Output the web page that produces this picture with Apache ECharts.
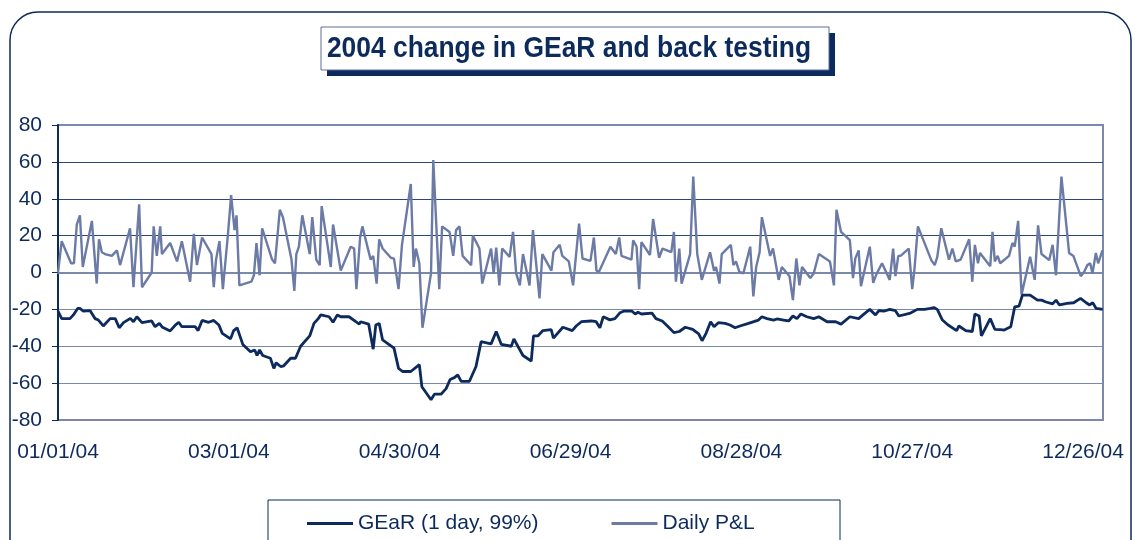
<!DOCTYPE html>
<html>
<head>
<meta charset="utf-8">
<script src="https://cdn.jsdelivr.net/npm/echarts@6/dist/echarts.min.js"></script>
<style>
  html, body { margin: 0; padding: 0; background: #fff; }
  #chart_box { width: 1137px; height: 540px; }
</style>
</head>
<body>
<div id="chart_box"></div>
<script>
// x values are days counted from 01/01/04
var pnlDays = [0,1.3,4.6,5.6,6.6,7.7,8.7,11.9,13.6,14.4,
  15.4,16.5,18.9,20.7,21.8,25.3,26.5,27.1,28.5,29.5,
  32.9,33.6,34.7,35.9,36.5,39.4,41.8,43.5,46.4,47.7,
  48.8,50.6,53.9,54.7,55.5,56.7,57.9,59.7,60.8,62.0,
  62.7,63.7,67.9,68.8,69.7,70.8,71.7,75.2,76.2,77.9,
  79.0,82.0,83.0,83.7,84.6,85.8,88.4,89.3,90.0,90.7,
  91.9,92.6,95.8,96.6,99.3,102.8,104.0,104.8,106.1,106.9,
  109.8,110.7,111.9,112.8,114.0,116.9,118.0,119.6,120.8,123.9,
  124.9,125.7,126.9,128.0,131.0,131.8,133.9,134.9,137.5,138.8,
  139.8,141.0,142.1,145.1,145.7,148.0,149.0,152.1,153.0,153.9,
  155.0,156.0,158.6,159.8,160.9,162.2,163.3,165.6,166.8,169.1,
  170.1,173.3,174.0,176.2,177.1,179.4,180.9,183.0,184.2,187.0,
  188.2,189.1,190.0,194.0,195.9,197.1,197.9,201.4,202.0,203.2,
  204.1,204.9,207.9,209.0,211.1,212.3,215.4,216.3,217.0,218.2,
  219.0,222.0,223.1,224.5,226.1,229.0,230.4,231.1,232.3,233.1,
  236.3,237.2,238.1,239.3,240.7,243.1,244.2,245.2,246.4,247.2,
  250.1,251.1,253.1,254.2,256.9,258.1,259.3,260.4,261.3,264.2,
  265.4,267.2,271.1,272.5,273.4,275.0,278.1,279.2,280.0,281.2,
  282.0,285.1,286.3,287.4,289.4,292.1,293.3,294.1,295.1,295.9,
  298.8,300.0,300.8,302.0,306.7,307.9,308.8,310.2,312.9,314.1,
  315.3,317.0,320.0,321.1,322.0,323.1,323.8,327.4,328.2,329.0,
  330.0,330.9,334.0,335.2,336.0,337.2,338.4,341.4,343.0,344.2,
  345.4,348.1,349.3,350.5,352.4,355.1,356.6,359.2,360.4,361.5,
  362.5,363.3,364.5,365.3,366.8];
var pnlVals = [0,17,5,5,26,31,3,28,-6,18,
  11,10,9,12,4,24,-8,-8,37,-8,
  0,25,9,25,10,16,6,17,-5,21,
  4,19,10,-8,7,17,-9,21,42,23,
  31,-7,-5,-1.5,16,-1.5,24,7,5,34,
  30,7,-10,10,14,31,10,30,30,7,
  4,36,3,26,1,14,13,-9,19,25,
  7,9,-6,18,13,8,7.5,-9,15,48,
  3,13,5,-30,-0.5,61,-9,25,22,9,
  23,25,9,4,20,13,-6,13,-0.5,13.5,
  -7,13,8.5,22,-0.5,-7,10,-7,23,-14,
  10,1,11,15,9,6,-7,26.5,7.6,6.3,
  19,1,0.4,14,10,19,9,7,17.5,14,
  -9,16.5,9.5,29,8,13,11,22,-5,13,
  -6,10,52,10,-4,11,1,3,-6,10,
  15,4,6,0.4,-0.5,14,-13,3,11,30,
  9,13,-4,3,-2,-15,7.6,-7,3,-3,
  -0.5,10,6,-7,34,22,17.5,-3,7.6,12,
  -7.4,14,-5.6,-1,5,-4,13,-2,9,9,
  13,-9,2,25,6.7,4,8.5,24,7,13,
  6,7,18,-5,15,5,10.6,3.4,22,6,
  9,5,9,16,14,28,-12,8.5,-4,25.6,
  10,6.7,15,-1.5,52,10.6,9,-2,0.4,4,
  5,-0.5,10.6,5,12];

var gearDays = [0,1.3,4.2,5.4,6.9,7.7,8.9,11.3,13.0,14.2,
  15.9,18.3,20.1,21.5,23.0,25.4,26.5,27.7,29.5,32.9,
  34.1,35.6,36.7,39.4,41.2,42.4,43.5,48.2,49.2,50.6,
  52.9,54.7,56.5,57.7,60.6,61.7,62.9,64.9,67.6,69.1,
  69.9,70.8,71.9,74.6,75.8,76.6,78.2,79.3,81.7,83.4,
  85.2,88.4,89.9,91.4,92.3,95.2,96.6,98.1,99.3,102.2,
  104.6,105.8,106.3,109.1,109.5,110.7,111.6,112.8,114.0,118.0,
  119.6,121.0,123.9,126.9,127.8,131.0,132.2,134.5,136.3,137.7,
  139.2,140.4,141.6,144.5,146.8,148.6,152.1,153.9,155.7,159.2,
  160.1,161.5,163.3,166.2,167.0,168.5,170.3,173.2,174.0,177.3,
  180.6,182.0,183.8,187.3,189.0,190.3,191.5,193.8,195.6,197.4,
  198.6,201.6,202.7,203.7,204.9,208.6,210.0,212.2,214.3,216.3,
  218.2,220.3,222.9,225.0,226.2,227.6,229.2,230.4,231.9,234.3,
  236.0,237.8,239.5,242.5,246.0,247.2,249.0,251.3,252.5,254.8,
  256.6,258.1,259.5,260.9,263.0,265.4,267.2,270.1,273.1,275.0,
  278.1,281.2,282.7,285.1,287.1,288.3,290.0,292.1,294.1,295.3,
  299.4,301.8,304.3,306.4,307.6,308.8,310.6,312.6,315.6,316.4,
  318.8,321.1,322.0,323.5,324.3,327.4,329.0,331.1,332.3,334.6,
  336.0,337.5,338.7,341.4,344.0,345.4,347.0,349.3,350.5,351.7,
  354.4,356.7,359.1,361.1,362.3,363.4,364.6,366.9];
var gearVals = [-21,-25,-25,-23,-19.5,-19.5,-21,-20.7,-25,-25.8,
  -29,-25,-25,-30,-27.2,-24.9,-26.7,-24,-27.2,-26.3,
  -29.4,-27.6,-29.7,-31.7,-28.5,-27,-29.4,-29.4,-31.5,-26,
  -27,-26,-28.5,-33,-36,-31.5,-30,-39,-43,-42,
  -45,-42,-45,-46.5,-52,-49,-51,-50.6,-46.5,-46.5,
  -40,-34.4,-27.6,-25,-23,-24,-27,-23,-24,-24,
  -26.7,-28,-26.7,-28,-29,-41.6,-28.5,-27.6,-36.6,-41,
  -52,-53.7,-53.7,-50,-62,-69,-66,-66,-63,-58,
  -57,-55.5,-59,-59,-51,-37.5,-38.7,-32,-39,-40,
  -36,-40,-45,-48,-34.4,-34.4,-31.5,-31,-35.6,-29.7,
  -31.5,-29,-26.7,-26.3,-26.7,-30,-24,-25.7,-25,-21.8,
  -21,-21,-22.5,-21.6,-22.5,-22,-25,-26.3,-29.4,-32.6,
  -32,-29.7,-30.8,-33.3,-37,-33,-26.7,-29.4,-27.2,-27.6,
  -28.5,-30,-29,-27.6,-25.8,-24,-25,-25.8,-25.2,-25.8,
  -26.3,-23.6,-25,-22.5,-24,-25,-24,-26.7,-26.7,-28,
  -24,-25,-23,-20,-23,-20.7,-21,-20,-20.7,-23.6,
  -22,-20,-20,-19.5,-19,-20,-25.8,-28.5,-31.5,-29,
  -31.5,-32,-22.5,-23.6,-34.4,-25,-30.8,-31,-31.2,-29.4,
  -18.6,-18.2,-12.3,-12.3,-15,-15,-16,-17,-15,-17.6,
  -16.8,-16.4,-14,-16.4,-17.6,-16.4,-19.5,-20];

var seriesNames = ['GEaR (1 day, 99%)', 'Daily P&L'];
var titleText = '2004 change in GEaR and back testing';

var navy = '#0c2a5c';
var slate = '#6b7ba6';
var gridLight = '#7c89ad';
var gridDark = '#2d4678';
var font = '"Liberation Sans", Arial, sans-serif';

function pairs(days, vals) {
  var out = [];
  for (var i = 0; i < days.length; i++) out.push([days[i], vals[i]]);
  return out;
}

// day number -> MM/DD/YY
function dayLabel(v) {
  var d = new Date(Date.UTC(2004, 0, 1) + v * 86400000);
  var mm = ('0' + (d.getUTCMonth() + 1)).slice(-2);
  var dd = ('0' + d.getUTCDate()).slice(-2);
  var yy = ('0' + (d.getUTCFullYear() % 100)).slice(-2);
  return mm + '/' + dd + '/' + yy;
}

var myEcharts = echarts.init(document.getElementById('chart_box'));
var option = {
  animation: false,
  backgroundColor: '#fff',
  textStyle: { fontFamily: font },
  grid: {
    left: 58, right: 34, top: 125, bottom: 120,
    show: true, borderColor: gridLight, borderWidth: 2
  },
  graphic: [
    { type: 'rect', z: 0, shape: { x: 10, y: 12, width: 1121, height: 600, r: 28 },
      style: { fill: 'none', stroke: navy, lineWidth: 1.5 } },
    { type: 'rect', z: 1, shape: { x: 327, y: 33, width: 508, height: 43 },
      style: { fill: navy } },
    { type: 'rect', z: 2, shape: { x: 321, y: 27, width: 508, height: 43 },
      style: { fill: '#fff', stroke: '#5a6d99', lineWidth: 1 } },
    // condensed bold title
    { type: 'text', z: 3, x: 569, y: 49, scaleX: 0.88,
      style: { text: titleText, align: 'center', verticalAlign: 'middle',
        font: 'bold 30px ' + font, fill: navy } },
    { type: 'rect', z: 1, shape: { x: 268, y: 500, width: 572, height: 42 },
      style: { fill: '#fff', stroke: navy, lineWidth: 1 } }
  ],
  legend: {
    left: 302, top: 508, z: 5,
    icon: 'rect', itemWidth: 46, itemHeight: 3, itemGap: 73,
    textStyle: { color: navy, fontSize: 21, fontFamily: font },
    data: seriesNames
  },
  xAxis: {
    type: 'value', min: 0, max: 367, interval: 60,
    axisLine: { show: true, lineStyle: { color: gridLight, width: 2 } },
    axisTick: { show: false },
    splitLine: { show: false },
    axisLabel: { color: navy, fontSize: 21, margin: 22, formatter: dayLabel,
      showMaxLabel: false }
  },
  yAxis: {
    type: 'value', min: -80, max: 80, interval: 20,
    axisLine: { show: true, onZero: false, lineStyle: { color: navy, width: 2 } },
    axisTick: { show: true, length: 6, lineStyle: { color: navy, width: 1 } },
    splitLine: { show: true, lineStyle: { width: 1.2,
      color: [gridLight, gridLight, gridLight, gridLight, gridDark, gridDark, gridDark, gridDark, gridLight] } },
    axisLabel: { color: navy, fontSize: 21, margin: 16 }
  },
  series: [
    { name: seriesNames[0], type: 'line', showSymbol: false, symbol: 'none', z: 3,
      lineStyle: { color: navy, width: 2.8 }, itemStyle: { color: navy },
      data: pairs(gearDays, gearVals) },
    { name: seriesNames[1], type: 'line', showSymbol: false, symbol: 'none', z: 2,
      lineStyle: { color: slate, width: 2.4 }, itemStyle: { color: slate },
      data: pairs(pnlDays, pnlVals) }
  ]
};
myEcharts.setOption(option);
</script>
</body>
</html>
